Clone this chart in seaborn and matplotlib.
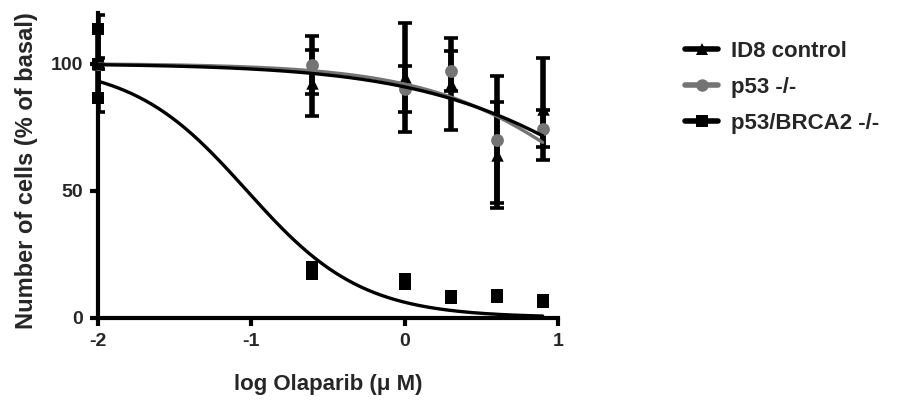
import numpy as np
import pandas as pd
import matplotlib
matplotlib.use("Agg")
import matplotlib.pyplot as plt
from matplotlib.lines import Line2D
import seaborn as sns

# ---- data ----
log_dose = [-2.0, -0.602, 0.0, 0.301, 0.602, 0.903]

id8_mean = [100, 92.5, 94.5, 92, 64, 82]
id8_err = [19, 13, 21.5, 18, 21, 20]

p53_mean = [100, 99.5, 90, 97, 70, 74.4]
p53_err = [2, 11.5, 9.2, 8, 25, 7.2]

brca_mean = [100, 18.5, 14, 8.2, 8.3, 6.6]
brca_err = [13.5, 1.3, 1.0, 0.4, 0.4, 0.4]

series = ["ID8 control", "p53 -/-", "p53/BRCA2 -/-"]
# fitted sigmoid parameters (top, bottom, logIC50, hill) per series
fit_top = [100, 100, 100]
fit_bottom = [0, 0, 0]
fit_logic50 = [1.506, 1.339, -1.03]
fit_hill = [0.66, 0.788, 1.16]

x_ticks = [-2, -1, 0, 1]
y_ticks = [0, 50, 100]

colors = ["#000000", "#747474", "#000000"]
markers = ["^", "o", "s"]

# ---- build tables ----
pts = pd.DataFrame({
    "x": log_dose * 3,
    "y": id8_mean + p53_mean + brca_mean,
    "err": id8_err + p53_err + brca_err,
    "series": sum([[s] * len(log_dose) for s in series], []),
})

xf = np.linspace(-2, 0.9, 200)
curves = []
for s, t, b, c, h in zip(series, fit_top, fit_bottom, fit_logic50, fit_hill):
    curves.append(pd.DataFrame({"x": xf,
                                "y": b + (t - b) / (1 + 10 ** ((xf - c) * h)),
                                "series": s}))
curves = pd.concat(curves, ignore_index=True)

# ---- figure ----
sns.set_style("ticks")
plt.rcParams["font.family"] = ["Liberation Sans", "DejaVu Sans"]
plt.rcParams["font.weight"] = "bold"

fig = plt.figure(figsize=(9, 4.07), dpi=100)
ax = fig.add_axes([98 / 900, 1 - 317.5 / 407, 460 / 900, 304.8 / 407])

pal = dict(zip(series, colors))
mk = dict(zip(series, markers))

# error bars (square-capped for the square series, as in the reference)
for s in series:
    d = pts[pts.series == s]
    if mk[s] == "s":
        eb = ax.errorbar(d.x, d.y, yerr=d.err, fmt="none", ecolor="black",
                         elinewidth=4, capsize=0, zorder=2)
        for art in eb.lines[2]:
            art.set_clip_on(False)
        for sign in (1, -1):
            sc = sns.scatterplot(x=d.x, y=d.y + sign * d.err, ax=ax,
                                 color="black", marker="s", s=85, linewidth=0,
                                 zorder=3, legend=False)
            ax.collections[-1].set_clip_on(False)
    else:
        ax.errorbar(d.x, d.y, yerr=d.err, fmt="none", ecolor="black",
                    elinewidth=4, capsize=4.8, capthick=2.6, zorder=2)

# points
for s in series:
    d = pts[pts.series == s]
    sns.scatterplot(data=d, x="x", y="y", ax=ax, color=pal[s], marker=mk[s],
                    s=85 if mk[s] != "^" else 80, edgecolor=pal[s], linewidth=0,
                    zorder=3, legend=False)
    ax.collections[-1].set_clip_on(False)

# fitted curves
for s in series[::-1]:
    d = curves[curves.series == s]
    sns.lineplot(data=d, x="x", y="y", ax=ax, color=pal[s], lw=2.4,
                 zorder=4, legend=False)

ax.set_xlim(-2, 1)
ax.set_ylim(0, 120)
ax.set_xticks(x_ticks)
ax.set_yticks(y_ticks)
ax.set_xticklabels([str(v) for v in x_ticks])
ax.set_yticklabels([str(v) for v in y_ticks])
ax.tick_params(axis="both", direction="out", length=6, width=3,
               labelsize=14, pad=5, color="black")
for lab in ax.get_xticklabels() + ax.get_yticklabels():
    lab.set_fontweight("bold")
sns.despine(ax=ax)
for sp in ["left", "bottom"]:
    ax.spines[sp].set_linewidth(3)
    ax.spines[sp].set_color("black")
ax.spines["left"].set_bounds(0, 120)

ax.set_xlabel("log Olaparib (\u03bc M)", fontsize=16, fontweight="bold")
ax.set_ylabel("Number of cells (% of basal)", fontsize=17, fontweight="bold")
ax.xaxis.set_label_coords(0.5, -0.185)
ax.yaxis.set_label_coords(-0.13, 0.482)

handles = [Line2D([0], [0], color=c, lw=4, marker=m, markersize=9,
                  markeredgewidth=0)
           for c, m in zip(colors, markers)]
fig.legend(handles, series, loc="upper left",
           bbox_to_anchor=(685 / 900, 1 - 41 / 407), frameon=False,
           prop={"size": 16, "weight": "bold"}, handlelength=1.5,
           handletextpad=0.55, labelspacing=0.68, borderpad=0, borderaxespad=0)

fig.savefig("out.png", dpi=100)
